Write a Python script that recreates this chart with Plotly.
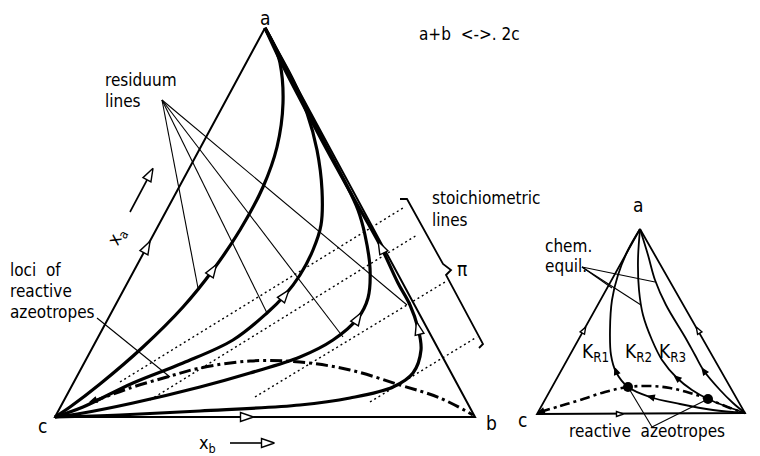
import math
import plotly.graph_objects as go

# ---------------- big diagram: a (top), c (left), b (right) ----------------
big_corner_x = [265, 55, 475, 265]
big_corner_y = [28, 417, 417, 28]

# residuum lines, running from c to a
resid1_x = [55, 70, 100, 143, 183, 213, 240, 263, 277, 283, 280, 274, 265]
resid1_y = [417, 407, 384, 347, 307, 270, 230, 187, 147, 103, 63, 45, 28]
resid2_x = [55, 83, 133, 183, 233, 267, 285, 300, 313, 321, 322, 317, 307, 293, 278, 265]
resid2_y = [417, 407, 383, 363, 340, 313, 295, 275, 250, 225, 190, 150, 113, 80, 52, 28]
resid3_x = [55, 83, 133, 200, 250, 300, 333, 358, 368, 370, 365, 358, 345, 322, 300, 282, 265]
resid3_y = [417, 413, 403, 387, 373, 357, 340, 318, 298, 268, 235, 210, 182, 138, 95, 60, 28]
resid4_x = [55, 120, 200, 300, 350, 393, 413, 421, 418, 410, 398, 381, 353, 327, 298, 280, 265]
resid4_y = [417, 415, 411, 405, 398, 387, 373, 350, 328, 305, 283, 247, 197, 150, 95, 60, 28]

# loci of reactive azeotropes (dash-dot)
azeo_x = [92, 130, 167, 200, 250, 300, 350, 400, 440, 473]
azeo_y = [402, 388, 377, 368, 361, 362, 370, 385, 398, 415]

# stoichiometric lines (dotted), start / end
stoich_x0 = [120, 150, 255, 370]
stoich_y0 = [382, 400, 397, 402]
stoich_x1 = [403, 417, 445, 477]
stoich_y1 = [208, 235, 282, 337]

# brace for pi
bracket_x = [400, 407, 443, 451, 446, 480, 483, 479]
bracket_y = [199, 199, 264, 270, 275, 338, 344, 348]

# pointer lines from the labels
resid_ptr_from = (162, 100)
resid_ptr_x = [198, 267, 343, 407]
resid_ptr_y = [288, 313, 337, 305]
loci_ptr_x = [97, 170]
loci_ptr_y = [318, 377]

# open arrowheads: position and direction (deg, clockwise from up)
big_arrow_x = [213, 285, 358, 418, 381, 147, 247, 150, 268]
big_arrow_y = [270, 295, 318, 328, 247, 247, 417, 174, 443]
big_arrow_dir = [33, 38, 32, -14, -26, 28, 90, 28, 90]

xa_axis_x = [130, 147]
xa_axis_y = [212, 180]
xb_axis_x = [230, 262]
xb_axis_y = [443, 443]

# ---------------- small diagram ----------------
small_corner_x = [640, 537, 745, 640]
small_corner_y = [229, 414, 413, 229]

kr1_x = [640, 628, 618, 612, 610, 611, 616, 628, 650, 680, 713, 745]
kr1_y = [229, 250, 275, 300, 330, 355, 372, 387, 397, 404, 410, 413]
kr2_x = [640, 638, 639, 643, 652, 662, 677, 692, 708, 728, 745]
kr2_y = [229, 260, 290, 315, 340, 360, 378, 390, 399, 407, 413]
kr3_x = [640, 648, 655, 666, 685, 695, 704, 720, 733, 745]
kr3_y = [229, 255, 280, 305, 337, 355, 371, 390, 403, 413]

small_azeo_x = [540, 560, 580, 605, 628, 650, 670, 690, 708, 730, 745]
small_azeo_y = [412, 406, 400, 392, 387, 386, 388, 393, 399, 408, 413]

react_azeo_x = [628, 708]
react_azeo_y = [387, 399]

chem_ptr_from = (582, 267)
chem_ptr_x = [612, 641, 655]
chem_ptr_y = [288, 305, 282]
react_ptr_from = (652, 427)

small_flow_x = [616, 651, 677, 704]
small_flow_y = [371, 397, 378, 371]
small_flow_dir = [-20, -75, -50, -35]

small_edge_x = [584, 698, 620]
small_edge_y = [330, 330, 414]
small_edge_dir = [29, -30, 90]

FONT = "DejaVu Sans Condensed, Liberation Sans Narrow, Liberation Sans, sans-serif"
PAGE_OFFSET = 8  # the html body margin pushes the plot 8px right/down

fig = go.Figure()


def add_line(xs, ys, width, dash="solid", spline=False):
    fig.add_trace(go.Scatter(
        x=xs, y=ys, mode="lines",
        line=dict(color="black", width=width, dash=dash,
                  shape="spline" if spline else "linear", smoothing=1.0),
        hoverinfo="skip", showlegend=False))


def add_head(x, y, ang, length, width, fill):
    t = math.radians(ang)
    ux, uy = math.sin(t), -math.cos(t)
    px, py = -uy, ux
    tx, ty = x + ux * length / 2, y + uy * length / 2
    bx, by = x - ux * length / 2, y - uy * length / 2
    xs = [tx, bx + px * width / 2, bx - px * width / 2, tx]
    ys = [ty, by + py * width / 2, by - py * width / 2, ty]
    fig.add_trace(go.Scatter(
        x=xs, y=ys, mode="lines", fill="toself", fillcolor=fill,
        line=dict(color="black", width=1.4),
        hoverinfo="skip", showlegend=False))


# big triangle
for i in range(4):
    add_line([stoich_x0[i], stoich_x1[i]], [stoich_y0[i], stoich_y1[i]], 1.4, dash="2px,3px")
add_line(big_corner_x, big_corner_y, 2)
for xs, ys in [(resid1_x, resid1_y), (resid2_x, resid2_y), (resid3_x, resid3_y), (resid4_x, resid4_y)]:
    add_line(xs, ys, 3.2, spline=True)
add_line(azeo_x, azeo_y, 3, dash="12px,4px,3px,4px", spline=True)
add_line(bracket_x, bracket_y, 1.8)
for px, py in zip(resid_ptr_x, resid_ptr_y):
    add_line([resid_ptr_from[0], px], [resid_ptr_from[1], py], 1.1)
add_line(loci_ptr_x, loci_ptr_y, 1.1)
add_line(xa_axis_x, xa_axis_y, 1.6)
add_line(xb_axis_x, xb_axis_y, 1.6)
for x, y, d in zip(big_arrow_x, big_arrow_y, big_arrow_dir):
    add_head(x, y, d, 13, 9, "white")
add_head(93, 401, -112, 7, 5, "black")

# small triangle
add_line(small_corner_x, small_corner_y, 1.8)
for xs, ys in [(kr1_x, kr1_y), (kr2_x, kr2_y), (kr3_x, kr3_y)]:
    add_line(xs, ys, 1.8, spline=True)
add_line(small_azeo_x, small_azeo_y, 2.6, dash="10px,4px,3px,4px", spline=True)
for px, py in zip(chem_ptr_x, chem_ptr_y):
    add_line([chem_ptr_from[0], px], [chem_ptr_from[1], py], 1.1)
for px, py in zip(react_azeo_x, react_azeo_y):
    add_line([react_ptr_from[0], px], [react_ptr_from[1], py], 1.1)
fig.add_trace(go.Scatter(x=react_azeo_x, y=react_azeo_y, mode="markers",
                         marker=dict(color="black", size=10),
                         hoverinfo="skip", showlegend=False))
for x, y, d in zip(small_flow_x, small_flow_y, small_flow_dir):
    add_head(x, y, d, 6, 5, "black")
for x, y, d in zip(small_edge_x, small_edge_y, small_edge_dir):
    add_head(x, y, d, 7, 5, "white")
add_head(541, 412, -112, 6, 5, "black")

# labels: text, x, y, size, xanchor, angle
labels = [
    ("a", 265, 18, 19, "center", 0),
    ("a+b\u00a0\u00a0<->.\u00a02c", 417, 34, 17, "left", 0),
    ("residuum", 103, 80, 17, "left", 0),
    ("lines", 103, 101, 17, "left", 0),
    ("stoichiometric", 430, 198, 17, "left", 0),
    ("lines", 430, 220, 17, "left", 0),
    ("\u03c0", 462, 269, 19, "center", 0),
    ("loci\u00a0\u00a0of", 8, 270, 17, "left", 0),
    ("reactive", 8, 291, 17, "left", 0),
    ("azeotropes", 8, 312, 17, "left", 0),
    ("c", 42, 426, 19, "center", 0),
    ("b", 491, 423, 19, "center", 0),
    ("x<sub>a</sub>", 117, 237, 18, "center", -62),
    ("x<sub>b</sub>", 207, 444, 18, "center", 0),
    ("a", 638, 205, 19, "center", 0),
    ("chem.", 543, 246, 17, "left", 0),
    ("equil.", 543, 266, 17, "left", 0),
    ("K<sub>R1</sub>", 580, 352, 19, "left", 0),
    ("K<sub>R2</sub>", 623, 352, 19, "left", 0),
    ("K<sub>R3</sub>", 657, 352, 19, "left", 0),
    ("c", 522, 420, 19, "center", 0),
    ("b", 759, 419, 19, "center", 0),
    ("reactive\u00a0\u00a0azeotropes", 647, 431, 17, "center", 0),
]
for text, x, y, size, anchor, ang in labels:
    fig.add_annotation(x=x, y=y, text=text, showarrow=False, xanchor=anchor,
                       yanchor="middle", textangle=ang,
                       font=dict(family=FONT, size=size, color="black"))

fig.update_layout(
    width=760, height=456, autosize=False,
    margin=dict(l=0, r=0, t=0, b=0, pad=0),
    paper_bgcolor="white", plot_bgcolor="white", showlegend=False,
    xaxis=dict(range=[PAGE_OFFSET, 760 + PAGE_OFFSET], visible=False, fixedrange=True),
    yaxis=dict(range=[456 + PAGE_OFFSET, PAGE_OFFSET], visible=False, fixedrange=True),
)

fig.write_html("out.html", config={"displayModeBar": False})
